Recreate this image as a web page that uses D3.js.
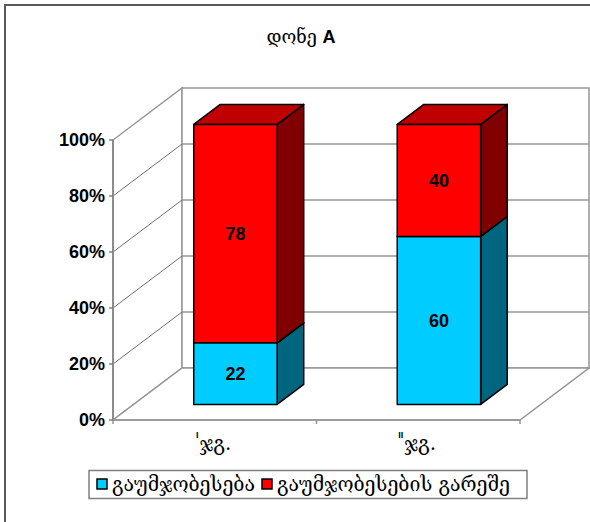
<!DOCTYPE html>
<html>
<head>
<meta charset="utf-8">
<script src="https://cdn.jsdelivr.net/npm/d3@7"></script>
<style>
  html, body { margin: 0; padding: 0; background: #fff; }
  svg { display: block; }
</style>
</head>
<body>
<svg id="chart" width="590" height="522"></svg>
<script>
// Chart data
const title = "დონე";
const titleSuffix = "A";
const categories = ["Iჯგ.", "IIჯგ."];
const seriesNames = ["გაუმჯობესება", "გაუმჯობესების გარეშე"];
const improved = [22, 60];
const notImproved = [78, 40];
const yTicks = [0, 20, 40, 60, 80, 100];

const series = [
  { name: seriesNames[0], values: improved, front: "#00CCFF", top: "#00A3CC", side: "#00667F" },
  { name: seriesNames[1], values: notImproved, front: "#FF0000", top: "#C00000", side: "#800000" }
];

const svg = d3.select("#chart");
const geo = "'DejaVu Serif', 'DejaVu Sans', serif";
const num = "Arial, 'Liberation Sans', sans-serif";

// Outer frame (only the top and left edges fall inside the canvas)
svg.append("path")
  .attr("d", "M5,530 L5,5 L600,5")
  .attr("fill", "none").attr("stroke", "#5a5a5a").attr("stroke-width", 2);

// 3D frame: front plane scales plus a depth offset
const x0 = 113, x1 = 520;
const DX = 69, DY = -52;
const x = d3.scaleBand().domain(categories).range([x0, x1]);
const y = d3.scaleLinear().domain([0, 100]).range([420, 140]);
const P = (px, v, d) => [px + d * DX, y(v) + d * DY];
const poly = pts => "M" + pts.map(p => p.join(",")).join("L") + "Z";

const wallStroke = "#969696";
// walls
svg.append("path").attr("d", poly([P(x0,0,0), P(x0,100,0), P(x0,100,1), P(x0,0,1)]))
  .attr("fill", "#fff").attr("stroke", wallStroke).attr("stroke-width", 1.5);
svg.append("path").attr("d", poly([P(x0,0,1), P(x0,100,1), P(x1,100,1), P(x1,0,1)]))
  .attr("fill", "#fff").attr("stroke", wallStroke).attr("stroke-width", 1.5);
svg.append("path").attr("d", poly([P(x0,0,0), P(x1,0,0), P(x1,0,1), P(x0,0,1)]))
  .attr("fill", "#fff").attr("stroke", wallStroke).attr("stroke-width", 1.5);

// gridlines on the side and back walls
const grid = svg.append("g").attr("fill", "none");
yTicks.filter(t => t > 0 && t < 100).forEach(t => {
  grid.append("path").attr("d", "M" + P(x0,t,0) + "L" + P(x0,t,1))
    .attr("stroke", "#6e6e6e").attr("stroke-width", 1);
  grid.append("path").attr("d", "M" + P(x0,t,1) + "L" + P(x1,t,1))
    .attr("stroke", wallStroke).attr("stroke-width", 1.5);
});

// value axis
const yAxis = svg.append("g");
yAxis.append("line").attr("x1", x0).attr("x2", x0).attr("y1", y(0)).attr("y2", y(100))
  .attr("stroke", "#808080").attr("stroke-width", 1.5);
yTicks.forEach(t => {
  yAxis.append("line").attr("x1", x0 - 4).attr("x2", x0).attr("y1", y(t)).attr("y2", y(t))
    .attr("stroke", "#808080").attr("stroke-width", 1.5);
  yAxis.append("text").attr("x", x0 - 8).attr("y", y(t)).attr("dy", "0.36em")
    .attr("text-anchor", "end").attr("font-family", num).attr("font-weight", "bold")
    .attr("font-size", 18).attr("fill", "#000").text(t + "%");
});

// category axis
const xAxis = svg.append("g");
xAxis.append("line").attr("x1", x0).attr("x2", x1).attr("y1", y(0)).attr("y2", y(0))
  .attr("stroke", "#969696").attr("stroke-width", 1.5);
[x0, x0 + x.bandwidth(), x1].forEach(px => {
  xAxis.append("line").attr("x1", px).attr("x2", px).attr("y1", y(0)).attr("y2", y(0) + 4)
    .attr("stroke", "#969696").attr("stroke-width", 1.5);
});
categories.forEach(c => {
  const m = c.match(/^([IVX]+)(.*)$/);
  const t = xAxis.append("text").attr("x", x(c) + x.bandwidth() / 2 - 1).attr("y", 450)
    .attr("text-anchor", "middle").attr("font-family", geo).attr("font-size", 20).attr("fill", "#000");
  t.append("tspan").attr("font-family", num).attr("font-weight", "bold")
    .attr("font-size", 9).attr("dy", -12).text(m[1]);
  t.append("tspan").attr("dy", 12).attr("dx", 1).text(m[2]);
});

// stacked 3D bars
const barW = x.bandwidth() * 0.41;
const d0 = 0.3, d1 = 0.685;
const bars = svg.append("g");
categories.forEach((c, i) => {
  const left = x(c) + (x.bandwidth() - barW) / 2;
  const right = left + barW;
  let base = 0;
  series.forEach(s => {
    const v0 = base, v1 = base + s.values[i];
    base = v1;
    const g = bars.append("g").attr("stroke", "#000").attr("stroke-width", 1.5).attr("stroke-linejoin", "round");
    // side face
    g.append("path").attr("d", poly([P(right,v0,d0), P(right,v1,d0), P(right,v1,d1), P(right,v0,d1)]))
      .attr("fill", s.side);
    // top face
    g.append("path").attr("d", poly([P(left,v1,d0), P(right,v1,d0), P(right,v1,d1), P(left,v1,d1)]))
      .attr("fill", s.top);
    // front face
    g.append("path").attr("d", poly([P(left,v0,d0), P(right,v0,d0), P(right,v1,d0), P(left,v1,d0)]))
      .attr("fill", s.front);
    const mid = P((left + right) / 2, (v0 + v1) / 2, d0);
    bars.append("text").attr("x", mid[0]).attr("y", mid[1]).attr("dy", "0.36em")
      .attr("text-anchor", "middle").attr("font-family", num).attr("font-weight", "bold")
      .attr("font-size", 18).attr("fill", "#000").text(s.values[i]);
  });
});

// title
const tt = svg.append("text").attr("x", 301).attr("y", 43).attr("text-anchor", "middle")
  .attr("font-size", 18).attr("fill", "#000");
tt.append("tspan").attr("font-family", geo).text(title + " ");
tt.append("tspan").attr("font-family", num).attr("font-weight", "bold").text(titleSuffix);

// legend
const lg = svg.append("g");
lg.append("rect").attr("x", 89).attr("y", 470.5).attr("width", 438).attr("height", 28)
  .attr("fill", "#fff").attr("stroke", "#808080").attr("stroke-width", 1.5);
const legendX = [97, 262];
series.forEach((s, i) => {
  lg.append("rect").attr("x", legendX[i]).attr("y", 479).attr("width", 10).attr("height", 10)
    .attr("fill", s.front).attr("stroke", "#000").attr("stroke-width", 1.5);
  lg.append("text").attr("x", legendX[i] + 15).attr("y", 491).attr("font-family", geo)
    .attr("font-size", 19.5).attr("fill", "#000").text(s.name);
});
</script>
</body>
</html>
